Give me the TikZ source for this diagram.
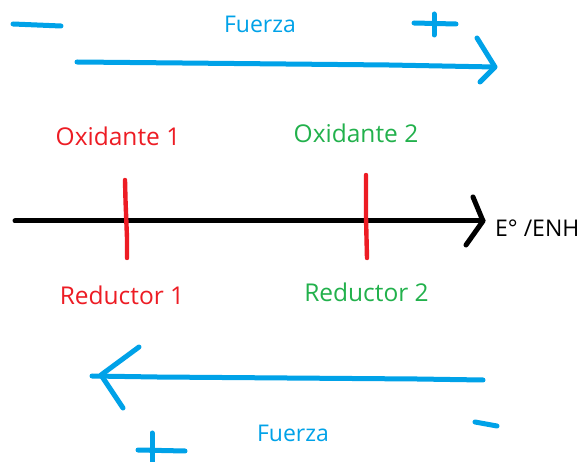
\documentclass[tikz,border=0pt]{standalone}
\usepackage{fontspec}
\setmainfont{Open Sans}
\definecolor{pblue}{RGB}{0,162,232}
\definecolor{pred}{RGB}{237,28,36}
\definecolor{pgreen}{RGB}{34,177,76}
\tikzset{
  pen/.style={line width=5pt, line cap=round, line join=round},
  bluepen/.style={pen, draw=pblue},
  blackpen/.style={pen, draw=black},
  redpen/.style={pen, draw=pred, line width=4.4pt},
  lbl/.style={inner sep=0pt, anchor=center, font=\fontsize{24.5}{26}\selectfont},
  flbl/.style={lbl, text=pblue, font=\fontsize{23}{25}\selectfont},
}
\begin{document}
\begin{tikzpicture}[x=1pt,y=-1pt]
\useasboundingbox (0,0) rectangle (587,462);
\fill[white] (0,0) rectangle (587,462);

% upper force arrow, drawn in three freehand strokes
\coordinate (ta) at (77,62);
\coordinate (tb) at (182,63);
\coordinate (tc) at (389,65);
\coordinate (td) at (495,67);
\draw[bluepen] (ta) -- (tb) -- (tc) -- (td);
\draw[bluepen] (477,38) -- (td) -- (480,82);
\draw[bluepen] (13,24) -- (37,25) -- (61,26);
\draw[bluepen] (414,23) -- (456,24);
\draw[bluepen] (434,14) -- (434,35);
\node[flbl] (f1) at (260,24.5) {Fuerza};

% potential axis
\coordinate (xa) at (15,221);
\coordinate (xb) at (483,221);
\draw[blackpen] (xa) -- (xb);
\draw[blackpen] (473,197) -- (xb) -- (466,245);
\node[lbl, anchor=west, font=\fontsize{23}{25}\selectfont] (eaxis) at (495,228) {E° /ENH};

% redox couples on the axis
\draw[redpen] (125,180) -- (125.5,200) -- (127,238) -- (127,258);
\draw[redpen] (366,175) -- (366,217) -- (367,258);
\node[lbl, text=pred] (ox1) at (118,136) {Oxidante 1};
\node[lbl, text=pgreen] (ox2) at (356,133.5) {Oxidante 2};
\node[lbl, text=pred] (rd1) at (122,295.5) {Reductor 1};
\node[lbl, text=pgreen] (rd2) at (366.5,292) {Reductor 2};

% lower force arrow
\coordinate (ba) at (483,380);
\coordinate (bb) at (417,379);
\coordinate (bc) at (287,378);
\coordinate (bd) at (157,377);
\coordinate (be) at (92,376);
\draw[bluepen] (ba) -- (bb) -- (bc) -- (bd) -- (be);
\draw[bluepen] (139,347) -- (101,375) -- (123,408);
\draw[bluepen] (152,433) -- (152,462);
\draw[bluepen] (138,450) -- (185,451);
\draw[bluepen] (475,422) -- (497,426);
\node[flbl] (f2) at (293,433) {Fuerza};
\end{tikzpicture}
\end{document}
